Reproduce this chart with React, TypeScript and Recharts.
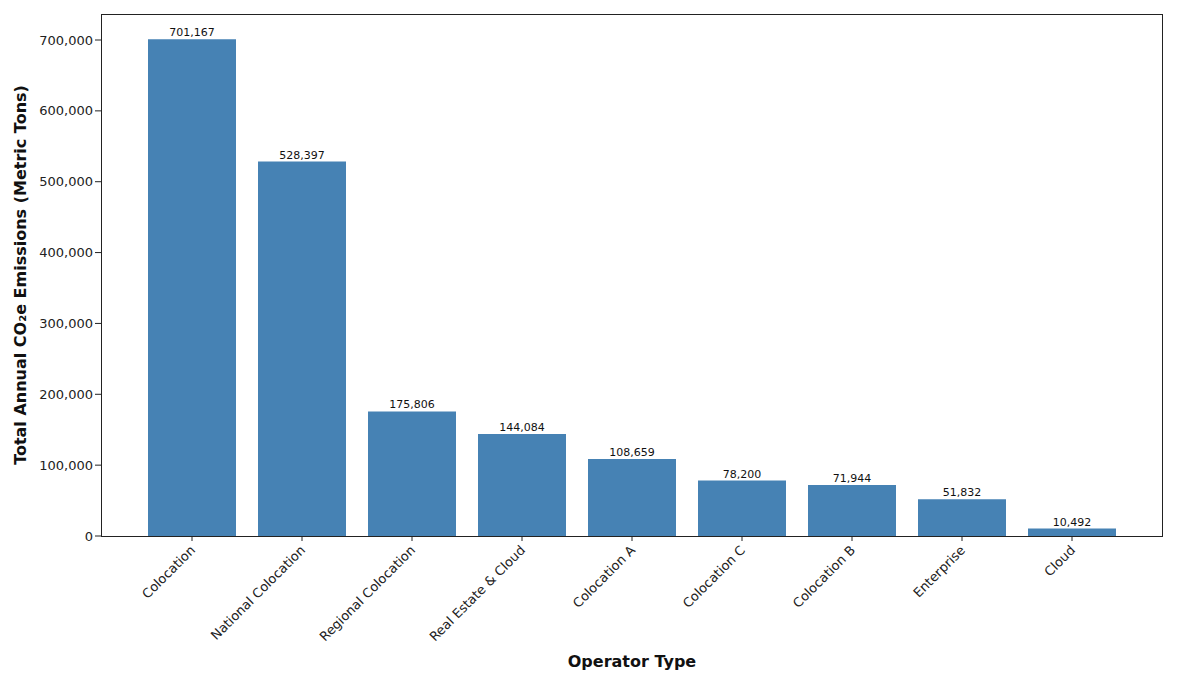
import { BarChart, Bar, XAxis, YAxis, LabelList } from "recharts";

const operators = [
  "Colocation",
  "National Colocation",
  "Regional Colocation",
  "Real Estate & Cloud",
  "Colocation A",
  "Colocation C",
  "Colocation B",
  "Enterprise",
  "Cloud",
];
const emissions = [701167, 528397, 175806, 144084, 108659, 78200, 71944, 51832, 10492];
const yTicks = [0, 100000, 200000, 300000, 400000, 500000, 600000, 700000];

const data = operators.map((name, i) => ({ name, value: emissions[i] }));
const fmt = (v: number) => v.toLocaleString("en-US");
const font = "DejaVu Sans, sans-serif";

const XTick = (props: any) => {
  const { x, y, payload } = props;
  return (
    <g transform={`translate(${x + 4},${y + 8})`}>
      <text textAnchor="end" transform="rotate(-45)" fontSize={13} fill="#222" fontFamily={font}>
        {payload.value}
      </text>
    </g>
  );
};

export default function App() {
  return (
    <div style={{ position: "absolute", left: 0, top: 0, width: 1177, height: 682, background: "#fff" }}>
      <BarChart
        width={1177}
        height={682}
        data={data}
        margin={{ left: 0, right: 14, top: 14, bottom: 0 }}
      >
        <XAxis
          dataKey="name"
          interval={0}
          padding={{ left: 36, right: 36 }}
          tick={<XTick />}
          tickSize={5}
          stroke="#222"
          axisLine={false}
          height={146}
        />
        <YAxis
          domain={[0, 736700]}
          ticks={yTicks}
          tickFormatter={fmt}
          width={101}
          stroke="#222"
          axisLine={false}
          tick={{ fontSize: 13, fill: "#222", fontFamily: font }}
          allowDataOverflow
        />
        <Bar dataKey="value" fill="#4682b4" barSize={88} isAnimationActive={false}>
          <LabelList
            dataKey="value"
            position="top"
            offset={3}
            formatter={(v: any) => fmt(Number(v))}
            style={{ fontSize: 11, fill: "#111", fontFamily: font }}
          />
        </Bar>
      </BarChart>
      <div
        style={{
          position: "absolute",
          left: 101,
          top: 14,
          width: 1062,
          height: 523,
          border: "1px solid #222",
          boxSizing: "border-box",
          pointerEvents: "none",
        }}
      />
      <div
        style={{
          position: "absolute",
          left: 0,
          top: 652,
          width: 1264,
          textAlign: "center",
          fontFamily: font,
          fontWeight: "bold",
          fontSize: 16,
          color: "#111",
        }}
      >
        Operator Type
      </div>
      <div
        style={{
          position: "absolute",
          left: 20,
          top: 275,
          transform: "translate(-50%, -50%) rotate(-90deg)",
          whiteSpace: "nowrap",
          fontFamily: font,
          fontWeight: "bold",
          fontSize: 16,
          color: "#111",
        }}
      >
        Total Annual CO₂e Emissions (Metric Tons)
      </div>
    </div>
  );
}
